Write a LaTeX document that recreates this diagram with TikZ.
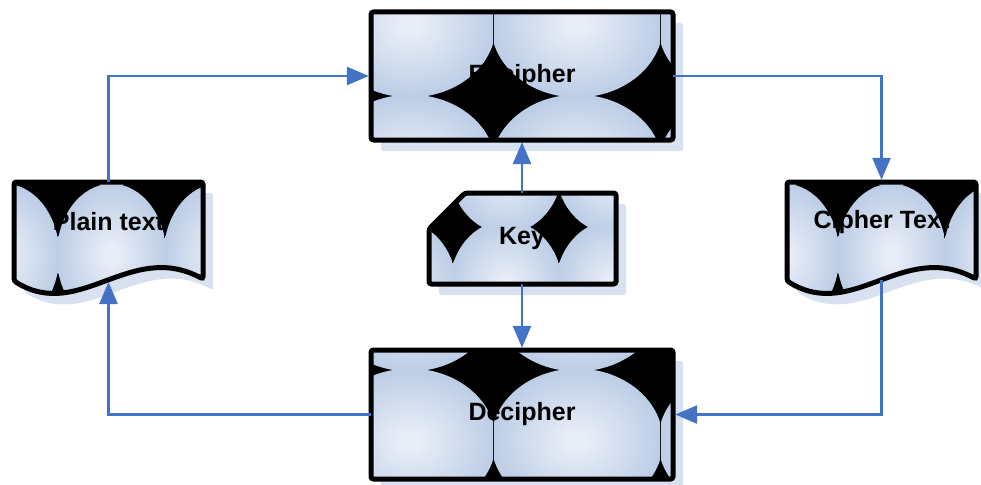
\documentclass[tikz,border=0pt]{standalone}
\usepackage{fontspec}
\setmainfont{Liberation Sans}
\usetikzlibrary{arrows.meta,calc}

\definecolor{bubHi}{RGB}{232,237,247}
\definecolor{bubLo}{RGB}{184,202,228}
\definecolor{shadowc}{RGB}{215,225,240}
\definecolor{linkc}{RGB}{68,114,196}

\pgfdeclareradialshading{bubble}{\pgfpoint{0bp}{0bp}}{%
  color(0bp)=(bubHi); color(3bp)=(bubHi); color(27bp)=(bubLo); color(50bp)=(bubLo)}

\tikzset{
  outline/.style={draw=black, line width=5pt, rounded corners=2.5pt},
  shadowfill/.style={fill=shadowc, rounded corners=2.5pt},
  conn/.style={draw=linkc, line width=2.7pt, shorten >=2pt,
    -{Triangle[length=22pt,width=18pt]}},
  lbl/.style={font=\fontsize{25}{30}\selectfont\bfseries, inner sep=0pt, text=black},
}

% black ground with a grid of shaded bubbles; must sit inside a clipped scope
% #1,#2 centre of one bubble, #3,#4 tile size, #5,#6 bubble radii
\newcommand\bubblefill[6]{%
  \fill[black] (-100,-100) rectangle (1100,600);
  \foreach \i in {-2,...,2}{\foreach \j in {-1,0,1}{
    \begin{scope}
      \clip ({#1+\i*#3-#3/2+0.5},{#2+\j*#4-#4/2+0.5}) rectangle ++({#3-1},{#4-1});
      \shade[shading=bubble] ({#1+\i*#3},{#2+\j*#4}) ellipse [x radius=#5, y radius=#6];
    \end{scope}}}}

% shape outlines
\def\encshape{(371,12) rectangle (673,140)}
\def\decshape{(371,350) rectangle (673,479)}
\def\keyshape{(429,229) -- (465,193) -- (616,193) -- (616,284) -- (429,284) -- cycle}
\def\docshape{(14,281) -- (14,182) -- (203,182) -- (203,279)
  .. controls (130,240) and (80,322) .. (14,281) -- cycle}

\begin{document}
\begin{tikzpicture}[x=1pt,y=-1pt]
\useasboundingbox (0,0) rectangle (981,484);

% drop shadows
\begin{scope}[shift={(10,11)}]
  \fill[shadowfill] \encshape;
  \fill[shadowfill] \decshape;
  \fill[shadowfill] \keyshape;
  \fill[shadowfill] \docshape;
  \begin{scope}[shift={(773,0)}]
    \fill[shadowfill] \docshape;
  \end{scope}
\end{scope}

% bubble fills
\begin{scope}
  \clip \encshape;
  \bubblefill{410}{25}{167}{142}{86}{72.4}
\end{scope}
\begin{scope}
  \clip \decshape;
  \bubblefill{410}{441}{167}{142}{86}{72.4}
\end{scope}
\begin{scope}
  \clip \keyshape;
  \bubblefill{506}{287}{106}{120}{56.5}{66.3}
\end{scope}
\begin{scope}
  \clip \docshape;
  \bubblefill{111.5}{255}{107}{140}{54.8}{71.2}
\end{scope}
\begin{scope}[shift={(773,0)}]
  \clip \docshape;
  \bubblefill{118.5}{255}{107}{140}{54.8}{71.2}
\end{scope}

% outlines
\draw[outline] \encshape;
\draw[outline] \decshape;
\draw[outline] \keyshape;
\draw[outline] \docshape;
\begin{scope}[shift={(773,0)}]
  \draw[outline] \docshape;
\end{scope}

% labels
\node[lbl, minimum width=302pt, minimum height=128pt] (enc) at (522,76) {Encipher};
\node[lbl, minimum width=302pt, minimum height=129pt] (dec) at (522,414.5) {Decipher};
\node[lbl, minimum width=187pt, minimum height=91pt] (key) at (522,238.5) {Key};
\node[lbl, minimum width=189pt, minimum height=80pt] (plain) at (108.5,222) {Plain text};
\node[lbl, minimum width=189pt, minimum height=80pt] (cipher) at (881.5,222) {Cipher Text};
\coordinate (plainbot) at (108.5,280);
\coordinate (cipherbot) at (881.5,280);

% connectors
\draw[conn] (plain.north) |- (enc.west);
\draw[conn] (enc.east) -| (cipher.north);
\draw[conn] (cipherbot) |- (dec.east);
\draw[conn] (dec.west) -| (plainbot);
\draw[conn] (key.north) -- (enc.south);
\draw[conn] (key.south) -- (dec.north);
\end{tikzpicture}
\end{document}
